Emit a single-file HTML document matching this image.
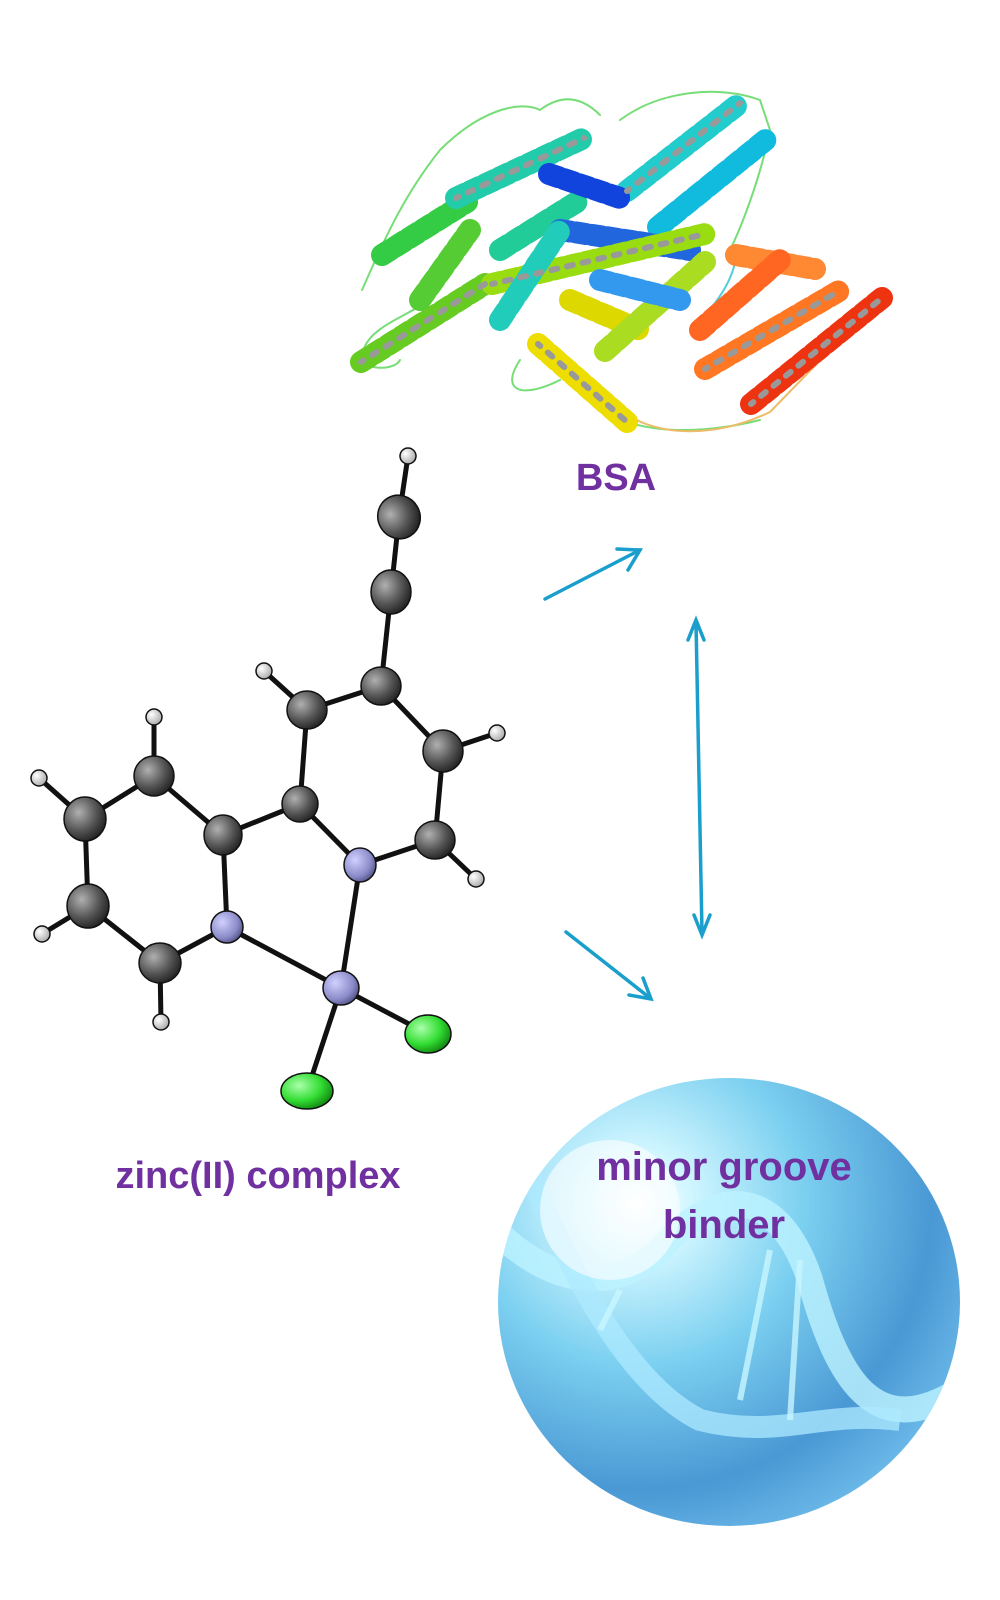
<!DOCTYPE html>
<html><head><meta charset="utf-8"><style>
html,body{margin:0;padding:0;background:#fff;}
svg{display:block;}
text{font-family:"Liberation Sans",sans-serif;font-weight:bold;fill:#7030a0;}
</style></head><body>
<svg width="1000" height="1600" viewBox="0 0 1000 1600" xmlns="http://www.w3.org/2000/svg">
<defs>
<radialGradient id="atomC" cx="35%" cy="35%" r="70%"><stop offset="0" stop-color="#b0b0b0"/><stop offset="0.6" stop-color="#555"/><stop offset="1" stop-color="#222"/></radialGradient>
<radialGradient id="atomN" cx="35%" cy="35%" r="70%"><stop offset="0" stop-color="#d0d0ff"/><stop offset="0.7" stop-color="#8a8ac8"/><stop offset="1" stop-color="#555588"/></radialGradient>
<radialGradient id="atomCl" cx="35%" cy="35%" r="70%"><stop offset="0" stop-color="#aaffaa"/><stop offset="0.6" stop-color="#33dd33"/><stop offset="1" stop-color="#118811"/></radialGradient>
<radialGradient id="atomH" cx="35%" cy="35%" r="70%"><stop offset="0" stop-color="#fff"/><stop offset="1" stop-color="#aaa"/></radialGradient>
<radialGradient id="dna" cx="30%" cy="28%" r="80%"><stop offset="0" stop-color="#ffffff"/><stop offset="0.15" stop-color="#d0f6ff"/><stop offset="0.45" stop-color="#7cd0f0"/><stop offset="0.8" stop-color="#4a98d4"/><stop offset="1" stop-color="#6ab8e8"/></radialGradient>
<clipPath id="cc"><ellipse cx="729" cy="1302" rx="231" ry="224"/></clipPath>
</defs>

<!-- Protein -->
<g fill="none" stroke-linecap="round">
<path d="M362,290 C380,250 400,200 440,150 C480,110 520,100 540,110 C560,95 580,95 600,115 M620,120 C660,90 720,85 760,100 L770,130 C760,180 740,230 730,250 M600,410 C650,440 720,430 760,420 M430,300 C400,320 360,330 362,362 C370,370 395,370 400,360 M560,380 C520,400 500,390 520,360" stroke="#7d7" stroke-width="2"/>
<path d="M735,245 C740,270 720,300 700,320" stroke="#5cd" stroke-width="2"/>
<path d="M620,410 C660,440 720,436 770,412 L840,340" stroke="#eb6" stroke-width="2"/>
<g stroke-width="22" stroke-dasharray="10 6">
<line x1="361" y1="362" x2="485" y2="284" stroke="#66cc22"/>
<line x1="382" y1="255" x2="467" y2="202" stroke="#33cc44"/>
<line x1="420" y1="300" x2="470" y2="230" stroke="#55cc33"/>
<line x1="456" y1="198" x2="584" y2="138" stroke="#22ccaa"/>
<line x1="500" y1="250" x2="580" y2="200" stroke="#22cc99"/>
<line x1="627" y1="191" x2="740" y2="103" stroke="#22cccc"/>
<line x1="658" y1="227" x2="768" y2="138" stroke="#11bbdd"/>
<line x1="549" y1="174" x2="620" y2="198" stroke="#1144dd"/>
<line x1="560" y1="230" x2="690" y2="250" stroke="#2266dd"/>
<line x1="492" y1="284" x2="705" y2="234" stroke="#99dd11"/>
<line x1="500" y1="320" x2="560" y2="230" stroke="#22ccbb"/>
<line x1="538" y1="344" x2="627" y2="422" stroke="#eedd00"/>
<line x1="570" y1="300" x2="640" y2="330" stroke="#ddd800"/>
<line x1="605" y1="351" x2="705" y2="262" stroke="#aadd22"/>
<line x1="600" y1="280" x2="680" y2="300" stroke="#3399ee"/>
<line x1="705" y1="369" x2="839" y2="291" stroke="#ff7722"/>
<line x1="736" y1="255" x2="815" y2="269" stroke="#ff8833"/>
<line x1="700" y1="330" x2="780" y2="260" stroke="#ff6622"/>
<line x1="751" y1="404" x2="882" y2="298" stroke="#ee3311"/>
</g>
<g stroke="#999" stroke-width="6" stroke-dasharray="6 10" stroke-dashoffset="3">
<line x1="361" y1="362" x2="485" y2="284"/>
<line x1="456" y1="198" x2="584" y2="138"/>
<line x1="627" y1="191" x2="740" y2="103"/>
<line x1="492" y1="284" x2="705" y2="234"/>
<line x1="705" y1="369" x2="839" y2="291"/>
<line x1="751" y1="404" x2="882" y2="298"/>
<line x1="538" y1="344" x2="627" y2="422"/>
</g>
</g>
<text x="616" y="490" font-size="38" text-anchor="middle">BSA</text>

<!-- Bonds -->
<g stroke="#111" stroke-width="5" stroke-linecap="round">
<line x1="408" y1="456" x2="399" y2="517"/>
<line x1="399" y1="517" x2="391" y2="592"/>
<line x1="391" y1="592" x2="381" y2="686"/>
<line x1="381" y1="686" x2="307" y2="710"/>
<line x1="307" y1="710" x2="264" y2="671"/>
<line x1="381" y1="686" x2="443" y2="751"/>
<line x1="443" y1="751" x2="497" y2="733"/>
<line x1="443" y1="751" x2="435" y2="840"/>
<line x1="435" y1="840" x2="476" y2="879"/>
<line x1="435" y1="840" x2="360" y2="865"/>
<line x1="307" y1="710" x2="300" y2="804"/>
<line x1="300" y1="804" x2="360" y2="865"/>
<line x1="300" y1="804" x2="223" y2="835"/>
<line x1="223" y1="835" x2="154" y2="776"/>
<line x1="154" y1="776" x2="154" y2="717"/>
<line x1="154" y1="776" x2="85" y2="819"/>
<line x1="85" y1="819" x2="39" y2="778"/>
<line x1="85" y1="819" x2="88" y2="906"/>
<line x1="88" y1="906" x2="42" y2="934"/>
<line x1="88" y1="906" x2="160" y2="963"/>
<line x1="160" y1="963" x2="161" y2="1022"/>
<line x1="160" y1="963" x2="227" y2="927"/>
<line x1="227" y1="927" x2="223" y2="835"/>
<line x1="227" y1="927" x2="341" y2="988"/>
<line x1="360" y1="865" x2="341" y2="988"/>
<line x1="341" y1="988" x2="428" y2="1034"/>
<line x1="341" y1="988" x2="307" y2="1091"/>
</g>
<!-- Atoms -->
<g stroke="#111" stroke-width="1.5">
<g fill="url(#atomH)">
<circle cx="408" cy="456" r="8"/><circle cx="264" cy="671" r="8"/><circle cx="497" cy="733" r="8"/><circle cx="476" cy="879" r="8"/><circle cx="154" cy="717" r="8"/><circle cx="39" cy="778" r="8"/><circle cx="42" cy="934" r="8"/><circle cx="161" cy="1022" r="8"/>
</g>
<g fill="url(#atomC)">
<ellipse cx="399" cy="517" rx="21" ry="22" transform="rotate(-30 399 517)"/><ellipse cx="391" cy="592" rx="20" ry="22"/><ellipse cx="381" cy="686" rx="20" ry="19"/><ellipse cx="307" cy="710" rx="20" ry="19"/><ellipse cx="443" cy="751" rx="20" ry="21"/><ellipse cx="300" cy="804" rx="18" ry="18"/><ellipse cx="435" cy="840" rx="20" ry="19"/><ellipse cx="223" cy="835" rx="19" ry="20"/><ellipse cx="154" cy="776" rx="20" ry="20"/><ellipse cx="85" cy="819" rx="21" ry="22"/><ellipse cx="88" cy="906" rx="21" ry="22"/><ellipse cx="160" cy="963" rx="21" ry="20"/>
</g>
<g fill="url(#atomN)">
<ellipse cx="360" cy="865" rx="16" ry="17"/><ellipse cx="227" cy="927" rx="16" ry="16"/><ellipse cx="341" cy="988" rx="18" ry="17"/>
</g>
<g fill="url(#atomCl)">
<ellipse cx="428" cy="1034" rx="23" ry="19"/><ellipse cx="307" cy="1091" rx="26" ry="18"/>
</g>
</g>
<text x="258" y="1188" font-size="38" text-anchor="middle">zinc(II) complex</text>

<!-- Arrows -->
<g stroke="#1a9fcc" stroke-width="3.5" fill="none" stroke-linecap="round">
<line x1="545" y1="599" x2="640" y2="550"/>
<polyline points="617,549 640,550 628,570"/>
<line x1="696" y1="622" x2="702" y2="933"/>
<polyline points="688,640 696,620 704,640"/>
<polyline points="694,915 702,935 710,915"/>
<line x1="566" y1="932" x2="650" y2="998"/>
<polyline points="629,995 651,999 643,978"/>
</g>

<!-- DNA circle -->
<ellipse cx="729" cy="1302" rx="231" ry="224" fill="url(#dna)"/>
<g clip-path="url(#cc)" fill="none">
<path d="M500,1235 C560,1290 620,1290 660,1250 C720,1180 780,1190 810,1280 C840,1390 880,1440 960,1390" stroke="#bdf3ff" stroke-width="26" opacity="0.8"/>
<path d="M520,1150 C560,1250 620,1380 700,1420 C780,1440 820,1410 900,1420" stroke="#aeeaff" stroke-width="22" opacity="0.75"/>
<g stroke="#c8f6ff" stroke-width="6" opacity="0.8">
<line x1="770" y1="1250" x2="740" y2="1400"/><line x1="800" y1="1260" x2="790" y2="1420"/><line x1="620" y1="1290" x2="600" y2="1330"/>
</g>
<circle cx="610" cy="1210" r="70" fill="#ffffff" opacity="0.6"/>
</g>
<text x="724" y="1180" font-size="40" text-anchor="middle">minor groove</text>
<text x="724" y="1238" font-size="40" text-anchor="middle">binder</text>
</svg>
</body></html>
